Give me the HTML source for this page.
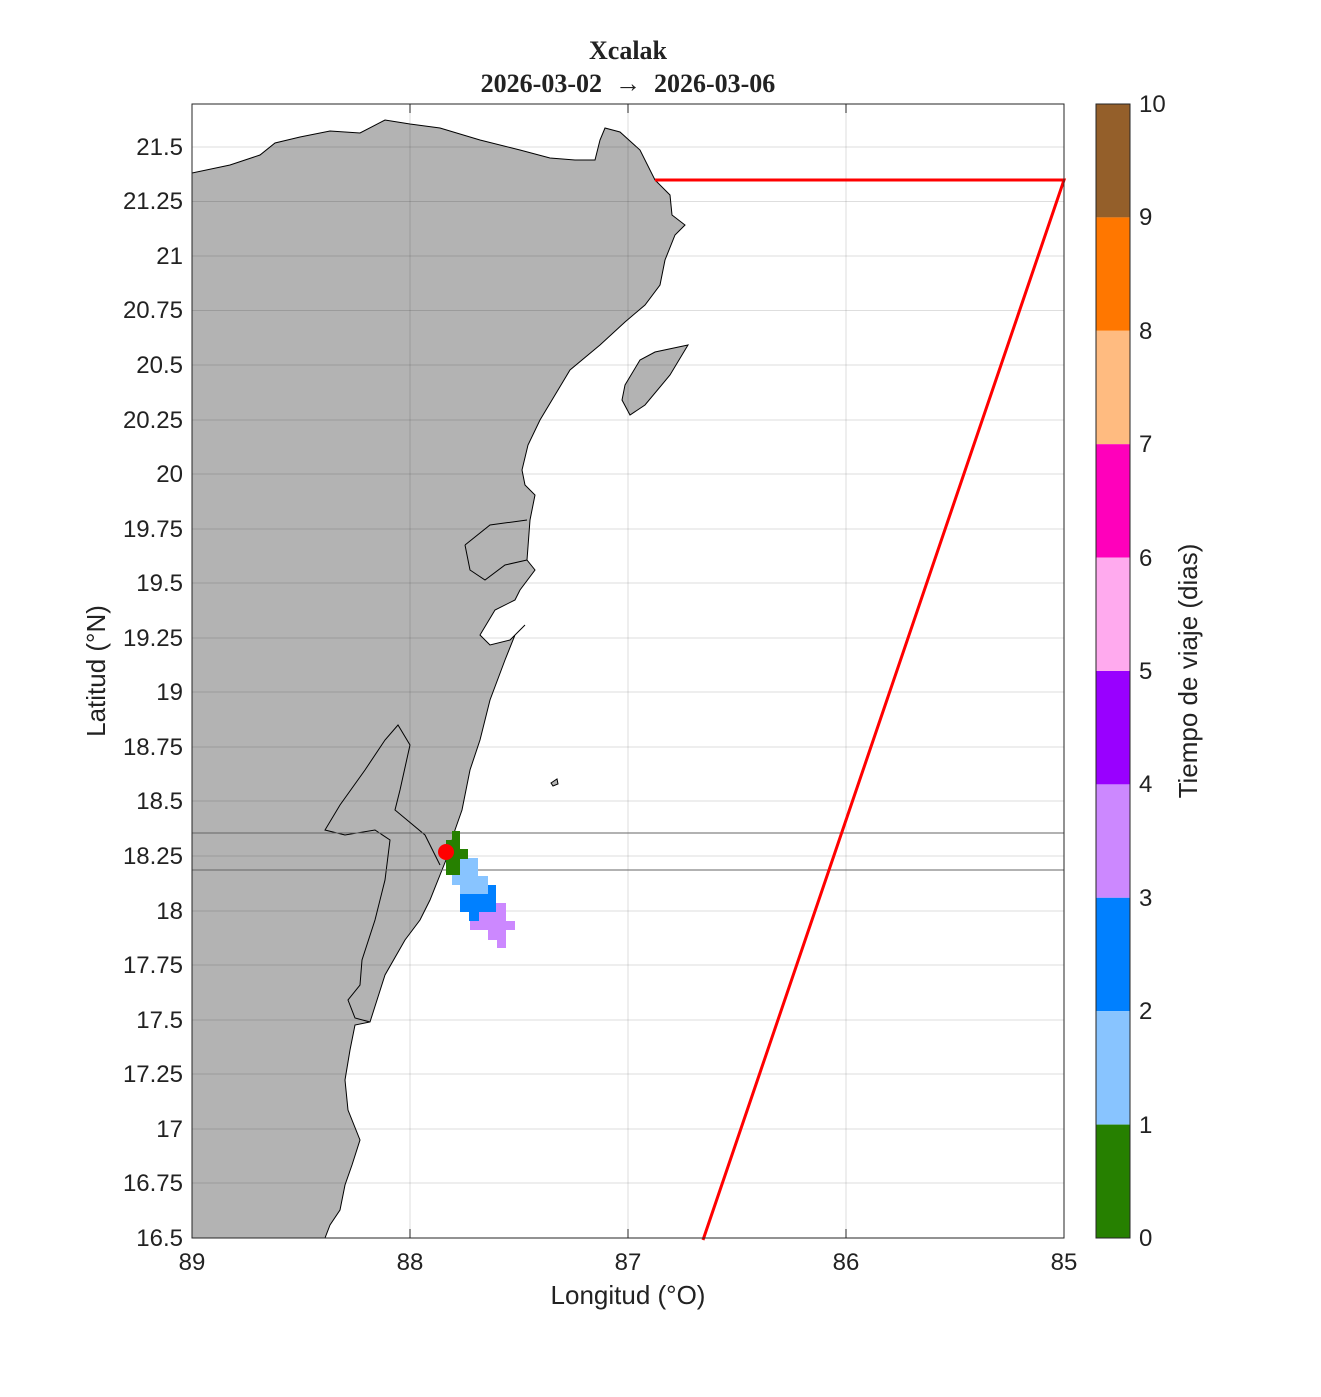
<!DOCTYPE html>
<html><head><meta charset="utf-8"><style>
body{margin:0;background:#fff}
text{font-family:"Liberation Sans",sans-serif;fill:#222}
</style></head><body>
<svg width="1321" height="1392" viewBox="0 0 1321 1392" xmlns="http://www.w3.org/2000/svg">
<rect width="1321" height="1392" fill="#fff"/>
<text x="628" y="59" text-anchor="middle" style="font-family:'Liberation Serif',serif;font-weight:bold;font-size:26px" fill="#222">Xcalak</text>
<text x="628" y="92" text-anchor="middle" style="font-family:'Liberation Serif',serif;font-weight:bold;font-size:26px;white-space:pre" fill="#222" xml:space="preserve">2026-03-02  →  2026-03-06</text>
<defs><clipPath id="c"><rect x="192" y="104" width="872" height="1134"/></clipPath></defs>
<g clip-path="url(#c)">
<polygon fill="#b3b3b3" stroke="#000" stroke-width="1" points="192,173 230,165 260,155 275,143 300,137 330,131 360,133 385,120 410,124 440,128 480,140 520,150 550,158 575,160 595,160 600,140 605,128 620,132 640,150 655,180 670,195 672,215 685,225 675,235 665,260 660,285 645,305 625,322 600,345 570,370 555,395 540,420 528,445 522,470 525,485 535,495 530,520 527,560 535,570 520,590 515,600 495,610 480,635 490,645 510,640 525,625 515,635 505,660 490,700 480,740 470,770 462,810 455,830 448,855 440,875 430,900 420,920 405,940 385,975 370,1022 355,1025 350,1050 345,1080 348,1110 360,1140 352,1165 345,1185 340,1210 330,1225 325,1238 192,1238"/>
<polyline fill="none" stroke="#000" stroke-width="1" points="465,545 490,525 527,520"/>
<polyline fill="none" stroke="#000" stroke-width="1" points="465,545 470,570 485,580 505,565 527,560"/>
<polyline fill="none" stroke="#000" stroke-width="1" points="440,865 425,835 395,810 400,790 410,745 398,725 385,740 365,770 340,805 325,830 345,835 375,830 390,840 385,880 375,920 362,960 360,985 348,1000 355,1018 370,1022"/>
<polygon fill="#b3b3b3" stroke="#000" stroke-width="1" points="625,385 640,360 655,352 688,345 670,375 645,405 630,415 622,400"/>
<polygon fill="#b3b3b3" stroke="#000" stroke-width="1" points="551,783 557,779 558,784 553,786"/>
</g>
<g stroke="#000" stroke-opacity="0.13" stroke-width="1">
<line x1="410" y1="104" x2="410" y2="1238"/><line x1="628" y1="104" x2="628" y2="1238"/><line x1="846" y1="104" x2="846" y2="1238"/>
<line x1="192" y1="147" x2="1064" y2="147"/><line x1="192" y1="201.5" x2="1064" y2="201.5"/><line x1="192" y1="256" x2="1064" y2="256"/><line x1="192" y1="310.5" x2="1064" y2="310.5"/><line x1="192" y1="365" x2="1064" y2="365"/><line x1="192" y1="420" x2="1064" y2="420"/><line x1="192" y1="474" x2="1064" y2="474"/><line x1="192" y1="529" x2="1064" y2="529"/><line x1="192" y1="583" x2="1064" y2="583"/><line x1="192" y1="638" x2="1064" y2="638"/><line x1="192" y1="692" x2="1064" y2="692"/><line x1="192" y1="747" x2="1064" y2="747"/><line x1="192" y1="801" x2="1064" y2="801"/><line x1="192" y1="856" x2="1064" y2="856"/><line x1="192" y1="911" x2="1064" y2="911"/><line x1="192" y1="965" x2="1064" y2="965"/><line x1="192" y1="1020" x2="1064" y2="1020"/><line x1="192" y1="1074" x2="1064" y2="1074"/><line x1="192" y1="1129" x2="1064" y2="1129"/><line x1="192" y1="1183" x2="1064" y2="1183"/>
</g>
<line x1="192" y1="833" x2="1064" y2="833" stroke="#666" stroke-width="1"/>
<line x1="192" y1="870" x2="1064" y2="870" stroke="#666" stroke-width="1"/>
<g>
<rect x="470" y="903" width="36" height="27" fill="#cc88ff"/><rect x="505" y="921" width="10" height="9" fill="#cc88ff"/><rect x="488" y="928" width="18" height="12" fill="#cc88ff"/><rect x="497" y="938" width="9" height="10" fill="#cc88ff"/>
<rect x="460" y="893" width="36" height="19" fill="#0080ff"/><rect x="478" y="885" width="18" height="10" fill="#0080ff"/><rect x="469" y="910" width="10" height="11" fill="#0080ff"/>
<rect x="452" y="858" width="26" height="27" fill="#88c4ff"/><rect x="460" y="876" width="28" height="18" fill="#88c4ff"/>
<rect x="446" y="840" width="14" height="35" fill="#268000"/><rect x="452" y="831" width="8" height="10" fill="#268000"/><rect x="458" y="849" width="10" height="10" fill="#268000"/>
</g>
<polyline fill="none" stroke="#ff0000" stroke-width="3" points="655,180 1064,180 703,1240"/>
<circle cx="446" cy="852" r="8" fill="#ff0000"/>
<rect x="192" y="104" width="872" height="1134" fill="none" stroke="#262626" stroke-width="1"/>
<g stroke="#262626" stroke-width="1">
<line x1="410" y1="1238" x2="410" y2="1229"/><line x1="628" y1="1238" x2="628" y2="1229"/><line x1="846" y1="1238" x2="846" y2="1229"/>
<line x1="410" y1="104" x2="410" y2="113"/><line x1="628" y1="104" x2="628" y2="113"/><line x1="846" y1="104" x2="846" y2="113"/>
</g>
<g font-size="24" text-anchor="end">
<text x="183" y="155">21.5</text><text x="183" y="209">21.25</text><text x="183" y="264">21</text><text x="183" y="318">20.75</text><text x="183" y="373">20.5</text><text x="183" y="428">20.25</text><text x="183" y="482">20</text><text x="183" y="537">19.75</text><text x="183" y="591">19.5</text><text x="183" y="646">19.25</text><text x="183" y="700">19</text><text x="183" y="755">18.75</text><text x="183" y="809">18.5</text><text x="183" y="864">18.25</text><text x="183" y="919">18</text><text x="183" y="973">17.75</text><text x="183" y="1028">17.5</text><text x="183" y="1082">17.25</text><text x="183" y="1137">17</text><text x="183" y="1191">16.75</text><text x="183" y="1246">16.5</text>
</g>
<g font-size="24" text-anchor="middle">
<text x="192" y="1270">89</text><text x="410" y="1270">88</text><text x="628" y="1270">87</text><text x="846" y="1270">86</text><text x="1064" y="1270">85</text>
</g>
<text x="628" y="1304" font-size="26" text-anchor="middle">Longitud (°O)</text>
<text transform="translate(105,671) rotate(-90)" font-size="26" text-anchor="middle">Latitud (°N)</text>
<g>
<rect x="1096" y="104" width="34" height="113.4" fill="#945f2a"/>
<rect x="1096" y="217.4" width="34" height="113.4" fill="#ff7700"/>
<rect x="1096" y="330.8" width="34" height="113.4" fill="#ffbb80"/>
<rect x="1096" y="444.2" width="34" height="113.4" fill="#ff00bb"/>
<rect x="1096" y="557.6" width="34" height="113.4" fill="#ffaaee"/>
<rect x="1096" y="671" width="34" height="113.4" fill="#9900ff"/>
<rect x="1096" y="784.4" width="34" height="113.4" fill="#cc88ff"/>
<rect x="1096" y="897.8" width="34" height="113.4" fill="#0080ff"/>
<rect x="1096" y="1011.2" width="34" height="113.4" fill="#88c4ff"/>
<rect x="1096" y="1124.6" width="34" height="113.4" fill="#268000"/>
<rect x="1096" y="104" width="34" height="1134" fill="none" stroke="#262626"/>
</g>
<g font-size="24">
<text x="1139" y="112">10</text><text x="1139" y="225">9</text><text x="1139" y="339">8</text><text x="1139" y="452">7</text><text x="1139" y="566">6</text><text x="1139" y="679">5</text><text x="1139" y="792">4</text><text x="1139" y="906">3</text><text x="1139" y="1019">2</text><text x="1139" y="1133">1</text><text x="1139" y="1246">0</text>
</g>
<text transform="translate(1197,671) rotate(-90)" font-size="26" text-anchor="middle">Tiempo de viaje (dias)</text>
</svg>
</body></html>
